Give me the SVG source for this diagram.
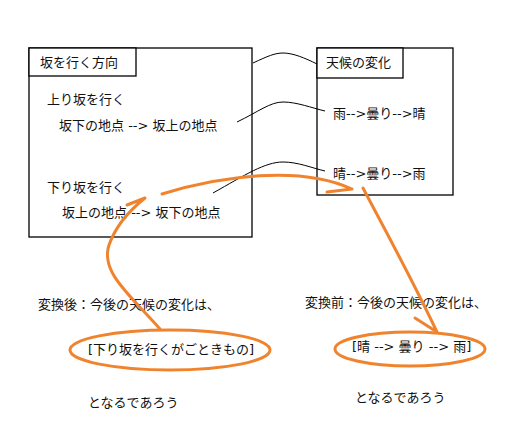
<svg xmlns="http://www.w3.org/2000/svg" width="510" height="440" viewBox="0 0 510 440">
<style>
text{font-family:"DejaVu Sans","Noto Sans CJK JP",sans-serif;font-size:13px;fill:#111}
.box{fill:#fff;stroke:#000;stroke-width:1.3}
.thin{fill:none;stroke:#000;stroke-width:1}
.or{fill:none;stroke:#F0842E;stroke-width:3;stroke-linecap:round;stroke-linejoin:round}
</style>
<rect width="510" height="440" fill="#fff"/>
<g id="slope">
<rect class="box" x="29" y="48" width="223" height="189"/>
<rect class="box" x="29" y="48" width="107" height="28"/>
<text x="40" y="67">坂を行く方向</text>
<text x="47" y="104">上り坂を行く</text>
<text x="59" y="130">坂下の地点 --&gt; 坂上の地点</text>
<text x="47" y="192">下り坂を行く</text>
<text x="62" y="217">坂上の地点 --&gt; 坂下の地点</text>
</g>
<g id="weather">
<rect class="box" x="317" y="48" width="136" height="147"/>
<rect class="box" x="317" y="48" width="86" height="30"/>
<text x="326" y="67">天候の変化</text>
<text x="333" y="118">雨--&gt;曇り--&gt;晴</text>
<text x="333" y="178">晴--&gt;曇り--&gt;雨</text>
</g>
<g id="after">
<text x="38" y="309">変換後：今後の天候の変化は、</text>
<ellipse class="or" cx="170" cy="350" rx="100" ry="20"/>
<text x="88" y="354">[下り坂を行くがごときもの]</text>
<text x="88" y="407">となるであろう</text>
</g>
<g id="before">
<text x="305" y="307">変換前：今後の天候の変化は、</text>
<ellipse class="or" cx="410" cy="349" rx="75" ry="17"/>
<text x="352" y="351">[晴 --&gt; 曇り --&gt; 雨]</text>
<text x="355" y="402">となるであろう</text>
</g>
<g id="connectors">
<path class="thin" d="M253,63 C268,56 275,53 283,53 C293,53 305,58 317,64"/>
<path class="thin" d="M237,122 C258,112 270,102 283,102 C297,102 312,108 325,111"/>
<path class="thin" d="M213,193 C245,175 265,162 283,162 C298,162 312,168 325,171"/>
<path class="or" d="M160,329 C130,295 100,272 109,245 C116,225 130,210 145,198 M127,205 L145,198"/>
<path class="or" d="M162,194 C220,176 300,165 352,189 M327,192 L352,189"/>
<path class="or" d="M363,188 C385,230 410,275 437,332 M415,318 L437,332"/>
</g>
</svg>
